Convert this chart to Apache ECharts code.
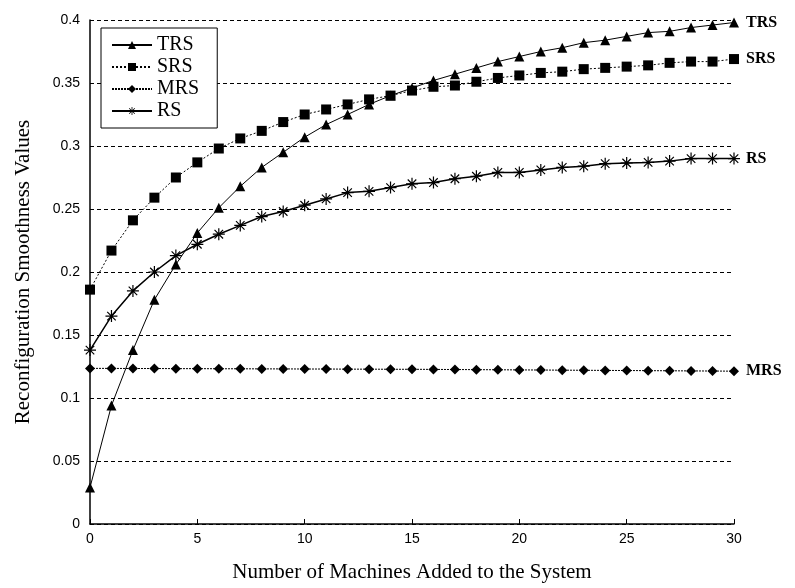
<!DOCTYPE html>
<html><head><meta charset="utf-8">
<script src="https://cdn.jsdelivr.net/npm/echarts@6/dist/echarts.min.js"></script>
<style>html,body{margin:0;padding:0;background:#fff}#c{width:795px;height:588px}</style>
</head><body><div id="c"></div>
<script>
const xValues = [0,1,2,3,4,5,6,7,8,9,10,11,12,13,14,15,16,17,18,19,20,21,22,23,24,25,26,27,28,29,30];
const trs = [0.029,0.094,0.138,0.178,0.206,0.231,0.251,0.268,0.283,0.295,0.307,0.317,0.325,0.333,0.340,0.346,0.352,0.357,0.362,0.367,0.371,0.375,0.378,0.382,0.384,0.387,0.390,0.391,0.394,0.396,0.398];
const srs = [0.186,0.217,0.241,0.259,0.275,0.287,0.298,0.306,0.312,0.319,0.325,0.329,0.333,0.337,0.340,0.344,0.347,0.348,0.351,0.354,0.356,0.358,0.359,0.361,0.362,0.363,0.364,0.366,0.367,0.367,0.369];
const mrs = [0.1235,0.1235,0.1234,0.1234,0.1233,0.1233,0.1232,0.1232,0.1231,0.1231,0.123,0.123,0.1229,0.1229,0.1228,0.1228,0.1227,0.1226,0.1225,0.1224,0.1223,0.1222,0.1221,0.122,0.1219,0.1218,0.1217,0.1216,0.1215,0.1214,0.1213];
const rs = [0.138,0.165,0.185,0.200,0.213,0.222,0.230,0.237,0.244,0.248,0.253,0.258,0.263,0.264,0.267,0.270,0.271,0.274,0.276,0.279,0.279,0.281,0.283,0.284,0.286,0.2865,0.287,0.288,0.290,0.290,0.290];
const seriesNames = ['TRS','SRS','MRS','RS'];
const yTicks = [0,0.05,0.1,0.15,0.2,0.25,0.3,0.35,0.4];

const star = 'path://M9,0 L11,0 L11,20 L9,20 Z M0,9 L20,9 L20,11 L0,11 Z M2.2,3.6 L3.6,2.2 L17.8,16.4 L16.4,17.8 Z M16.4,2.2 L17.8,3.6 L3.6,17.8 L2.2,16.4 Z';
const pair = a => a.map((v,i)=>[xValues[i],v]);
const serif = '"Liberation Serif", "Times New Roman", serif';
const sans = '"Liberation Sans", Arial, sans-serif';
function mk(name, data, symbol, size, lineType, width){
  return {
    name, type:'line', data: pair(data), symbol, symbolSize:size,
    itemStyle:{color:'#000'},
    lineStyle:{color:'#000', width, type: lineType},
    endLabel:{show:true, formatter: name, color:'#000', fontFamily: serif, fontWeight:'bold', fontSize:16, distance:12},
    animation:false
  };
}
const chart = echarts.init(document.getElementById('c'));
chart.setOption({
  backgroundColor:'#fff',
  animation:false,
  grid:{left:90, right:61, top:20, bottom:64},
  legend:{
    left:101, top:28, orient:'vertical', padding:[7,18,7,10], itemGap:2,
    itemWidth:40, itemHeight:10,
    borderColor:'#000', borderWidth:1, backgroundColor:'#fff',
    textStyle:{fontFamily:serif, fontSize:20, color:'#000'},
    data: seriesNames
  },
  xAxis:{
    type:'value', min:0, max:30, interval:5,
    name:'Number of Machines Added to the System', nameLocation:'middle', nameGap:38,
    nameTextStyle:{fontFamily:serif, fontSize:21, color:'#000'},
    axisLine:{lineStyle:{color:'#000', width:1.5}},
    axisTick:{inside:true, length:5, lineStyle:{color:'#000'}},
    axisLabel:{fontFamily:sans, fontSize:14, color:'#000', margin:8},
    splitLine:{show:false}
  },
  yAxis:{
    type:'value', min:0, max:0.4, interval:0.05,
    name:'Reconfiguration Smoothness Values', nameLocation:'middle', nameGap:56,
    nameTextStyle:{fontFamily:serif, fontSize:21, color:'#000'},
    axisLine:{show:true, lineStyle:{color:'#000', width:1.5}},
    axisTick:{show:true, inside:true, length:4, lineStyle:{color:'#000'}},
    axisLabel:{fontFamily:sans, fontSize:14, color:'#000', margin:10,
      formatter: v => { const t = yTicks.find(x=>Math.abs(x-v)<1e-9); return t===undefined? '' : String(t); }},
    splitLine:{show:true, lineStyle:{color:'#000', type:[4,3], width:1}}
  },
  series:[
    mk('TRS', trs, 'triangle', 10, 'solid', 1),
    mk('SRS', srs, 'rect', 10, [2,2], 1),
    mk('MRS', mrs, 'diamond', 10, [2,1], 1),
    mk('RS', rs, star, 12, 'solid', 1.5)
  ]
});
</script></body></html>
